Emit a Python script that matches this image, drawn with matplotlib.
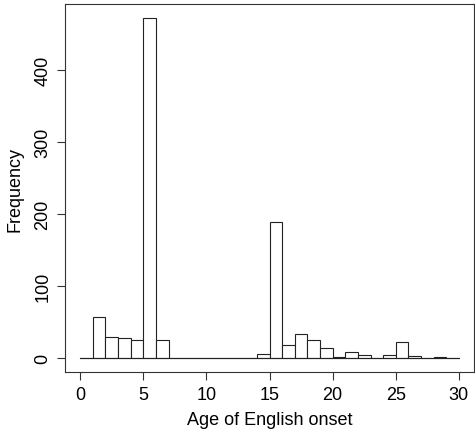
import numpy as np
import matplotlib.pyplot as plt

plt.rcParams['font.family'] = ['Liberation Sans', 'DejaVu Sans']

# histogram bins of width 1, from 0 to 30
bin_edges = list(range(0, 31))
counts = [0, 57, 30, 28, 25, 472, 25, 1, 0, 0,
          1, 0, 0, 0, 6, 189, 18, 34, 25, 14,
          2, 9, 5, 0, 5, 23, 3, 0, 2, 0]
x_ticks = [0, 5, 10, 15, 20, 25, 30]
y_ticks = [0, 100, 200, 300, 400]

fig = plt.figure(figsize=(4.75, 4.31), dpi=100)
ax = fig.add_axes([0.137, 0.1346, 0.861, 0.8534])

lefts = np.array(bin_edges[:-1])
ax.bar(lefts, counts, width=1, align='edge', facecolor='white',
       edgecolor='#222222', linewidth=0.8)
# zero-height bins still show as a baseline in R
ax.plot([bin_edges[0], bin_edges[-1]], [0, 0], color='#222222', lw=0.8)

ax.set_xlim(-1.2, 31.2)
ax.set_ylim(-18.9, 490.9)
ax.set_xticks(x_ticks)
ax.set_yticks(y_ticks)
ax.set_yticklabels([str(v) for v in y_ticks], rotation=90, va='center')
ax.tick_params(labelsize=13, length=6, width=0.8, color='#333333', pad=4)
for s in ax.spines.values():
    s.set_linewidth(0.8)
    s.set_color('#333333')

ax.set_xlabel('Age of English onset', fontsize=13, labelpad=6)
ax.set_ylabel('Frequency', fontsize=13, labelpad=8)

fig.savefig('out.png', dpi=100)
